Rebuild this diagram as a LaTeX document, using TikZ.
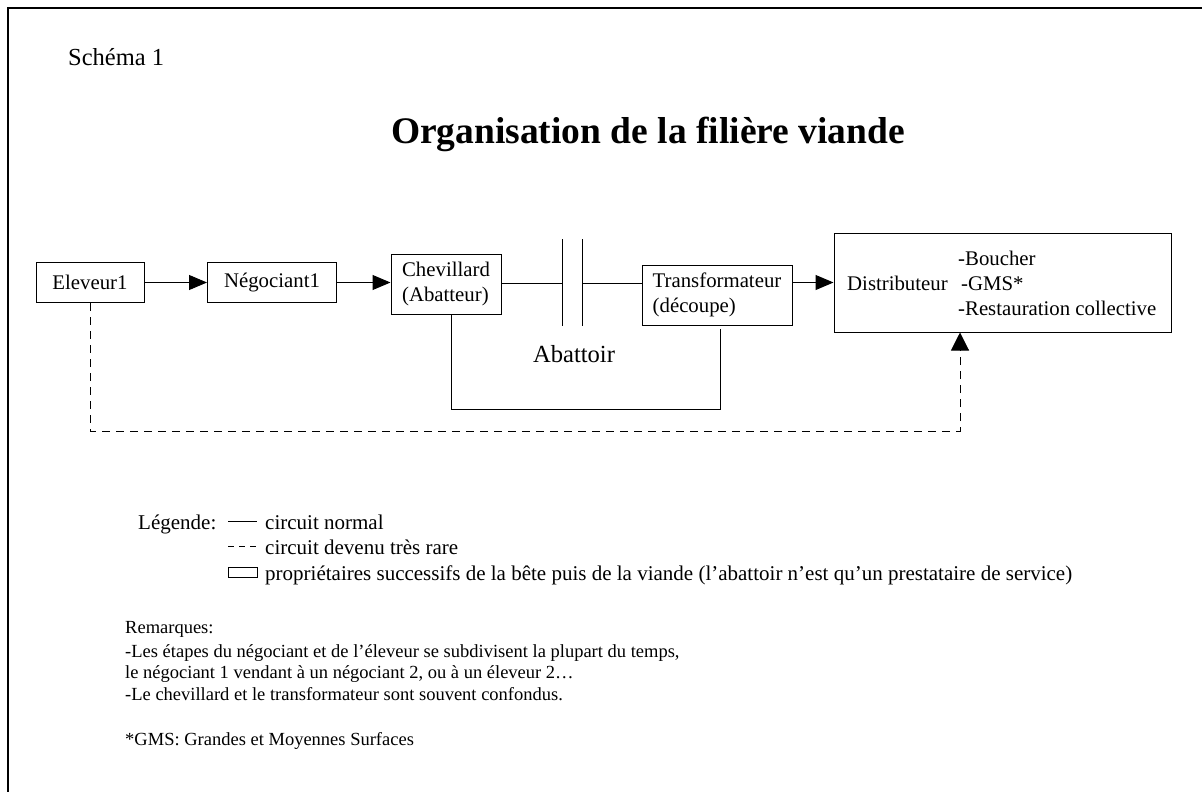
\documentclass[tikz,border=0pt]{standalone}
\usepackage{fontspec}
\setmainfont{Liberation Serif}
\usetikzlibrary{arrows.meta}
\begin{document}
\begin{tikzpicture}[x=1pt,y=-1pt,
  box/.style={draw, line width=1pt, inner sep=0pt, font=\fontsize{20.8}{24.5}\selectfont, align=left},
  btxt/.style={font=\fontsize{20.8}{24}\selectfont, anchor=base west, inner sep=0pt},
  conn/.style={line width=1pt},
  arr/.style={conn, -{Triangle[length=18pt,width=15pt]}},
  rare/.style={conn, dash pattern=on 8pt off 6pt},
  txt/.style={font=\fontsize{18.5}{21.5}\selectfont, anchor=base west, inner sep=0pt},
  ltxt/.style={font=\fontsize{21}{24}\selectfont, anchor=base west, inner sep=0pt},
]
\useasboundingbox (0,0) rectangle (1202,792);
\draw[line width=2.5pt] (8,792) -- (8,8) -- (1202,8);

% title texts
\node[font=\fontsize{24.5}{28}\selectfont, anchor=base west, inner sep=0pt] (schema) at (68,66) {Schéma 1};
\node[font=\fontsize{37.5}{42}\selectfont\bfseries, anchor=base] (title) at (648,143) {Organisation de la filière viande};

% boxes
\node[box, minimum width=108pt, minimum height=40pt, align=center] (elev) at (90,282.5) {Eleveur1};
\node[box, minimum width=129pt, minimum height=40pt, align=center] (nego) at (272,282.5) {Négociant1};
\node[box, minimum width=110pt, minimum height=60pt] (chev) at (446,284) {Chevillard\\(Abatteur)};
\node[box, minimum width=150pt, minimum height=60pt] (trans) at (717,295) {Transformateur\\(découpe)};
\node[box, minimum width=337pt, minimum height=99pt] (dist) at (1002.5,282.5) {};
\node[btxt] (distlbl) at (847,290) {Distributeur};
\node[btxt] (bouch) at (958,265) {-Boucher};
\node[btxt] (gms) at (961,290) {-GMS*};
\node[btxt] (resto) at (958,315) {-Restauration collective};

% abattoir wall
\coordinate (wl) at (562,283);
\coordinate (wr) at (582,283);
\draw[conn] (562,239) -- (562,326);
\draw[conn] (582,239) -- (582,326);
\node[font=\fontsize{24.6}{28}\selectfont, anchor=base, inner sep=0pt] (abat) at (574,362) {Abattoir};

% connectors
\draw[arr] (elev.east) -- (nego.west);
\draw[arr] (nego.east) -- (nego.east -| chev.west);
\draw[conn] (chev.east |- wl) -- (wl);
\draw[conn] (wr) -- (trans.west |- wr);
\draw[arr] (trans.east |- dist.west) -- (dist.west);
\draw[conn] ([xshift=5pt]chev.south) -- ++(0,95) -| ([xshift=3pt,yshift=-3pt]trans.south);
\draw[rare, -{Triangle[length=18pt,width=18pt]}] (elev.south) -- ++(0,128) -| ([xshift=-42.5pt]dist.south);

% legend
\node[ltxt] (leg) at (138,529) {Légende:};
\draw[conn] (228,521) -- (257,521);
\node[ltxt] (l1) at (265,529) {circuit normal};
\draw[conn, dash pattern=on 6pt off 5pt] (228,546) -- (258,546);
\node[ltxt] (l2) at (265,554) {circuit devenu très rare};
\draw[conn] (228,567) rectangle (257,577);
\node[ltxt] (l3) at (265,580) {propriétaires successifs de la bête puis de la viande (l’abattoir n’est qu’un prestataire de service)};

% remarks
\node[txt] (rem) at (125,633) {Remarques:};
\node[txt] (r1) at (125,657) {-Les étapes du négociant et de l’éleveur se subdivisent la plupart du temps,};
\node[txt] (r2) at (125,678) {le négociant 1 vendant à un négociant 2, ou à un éleveur 2…};
\node[txt] (r3) at (125,700) {-Le chevillard et le transformateur sont souvent confondus.};
\node[txt] (gmsnote) at (125,745) {*GMS: Grandes et Moyennes Surfaces};
\end{tikzpicture}
\end{document}
